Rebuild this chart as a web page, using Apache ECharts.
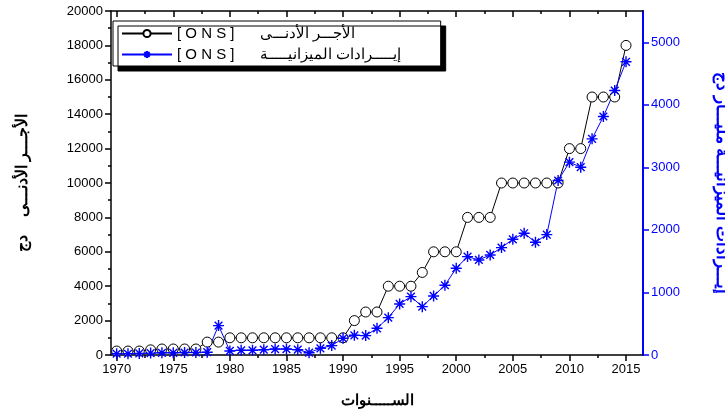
<!DOCTYPE html>
<html>
<head>
<meta charset="utf-8">
<script src="https://cdn.jsdelivr.net/npm/echarts@6/dist/echarts.min.js"></script>
<style>
  html, body { margin: 0; padding: 0; background: #fff; }
</style>
</head>
<body>
<div id="chart" style="width: 725px; height: 412px"></div>
<script>
// السنوات
var years = [1970, 1971, 1972, 1973, 1974, 1975, 1976, 1977, 1978, 1979,
  1980, 1981, 1982, 1983, 1984, 1985, 1986, 1987, 1988, 1989,
  1990, 1991, 1992, 1993, 1994, 1995, 1996, 1997, 1998, 1999,
  2000, 2001, 2002, 2003, 2004, 2005, 2006, 2007, 2008, 2009,
  2010, 2011, 2012, 2013, 2014, 2015];

// الأجر الأدنى (دج) - left axis
var minWage = [230, 230, 230, 300, 350, 350, 350, 350, 750, 750,
  1000, 1000, 1000, 1000, 1000, 1000, 1000, 1000, 1000, 1000,
  1000, 2000, 2500, 2500, 4000, 4000, 4000, 4800, 6000, 6000,
  6000, 8000, 8000, 8000, 10000, 10000, 10000, 10000, 10000, 10000,
  12000, 12000, 15000, 15000, 15000, 18000];

// إيرادات الميزانية (مليار دج) - right axis
var revenue = [20, 20, 25, 30, 35, 35, 40, 40, 45, 470,
  65, 75, 75, 85, 95, 95, 85, 37, 107, 150,
  267, 315, 310, 427, 597, 816, 933, 773, 944, 1115,
  1387, 1573, 1520, 1600, 1717, 1850, 1947, 1803, 1925, 2790,
  3083, 3003, 3456, 3813, 4229, 4688];

var yearTicks = [1970, 1975, 1980, 1985, 1990, 1995, 2000, 2005, 2010, 2015];
var yearMinor = [1972.5, 1977.5, 1982.5, 1987.5, 1992.5, 1997.5, 2002.5, 2007.5, 2012.5];
var rightTicks = [0, 1000, 2000, 3000, 4000, 5000];

var nameWage = "[ O N S ]      الأجـــر الأدنـــى";
var nameRevenue = "[ O N S ]      إيـــــرادات الميزانيـــــة";

var font = "'Liberation Sans', Arial, sans-serif";
var asterisk = "path://M5,0L5,10M0,5L10,5M1.5,1.5L8.5,8.5M1.5,8.5L8.5,1.5";

function pairs(xs, ys) {
  return xs.map(function (x, i) { return [x, ys[i]]; });
}
function plain(v) { return String(v); }

function xAx(pos, ticks, len, inside, showLine, showLabel) {
  return {
    type: "value", position: pos, min: 1969.5, max: 2016.5,
    axisLine: { show: showLine, onZero: false, lineStyle: { color: "#000", width: 1.5 } },
    axisTick: { show: true, customValues: ticks, length: len, inside: inside,
      lineStyle: { color: "#000", width: 1.5 } },
    axisLabel: { show: showLabel, customValues: ticks, color: "#000", fontSize: 13,
      fontFamily: font, margin: 8, formatter: plain },
    splitLine: { show: false }
  };
}

var bottomAxis = xAx("bottom", yearTicks, 6, false, true, true);
bottomAxis.name = "الســـــنوات";
bottomAxis.nameLocation = "middle";
bottomAxis.nameGap = 38;
bottomAxis.nameTextStyle = { color: "#000", fontSize: 15, fontWeight: "bold", fontFamily: font };

var option = {
  animation: false,
  grid: { left: 111, right: 82, top: 11, bottom: 57, outerBoundsMode: "none", containLabel: false },
  legend: {
    orient: "vertical",
    left: 113, top: 21,
    padding: [5, 40, 4, 8],
    itemWidth: 50, itemHeight: 9, itemGap: 6,
    backgroundColor: "#fff",
    borderColor: "#000", borderWidth: 1,
    shadowColor: "#000", shadowBlur: 0, shadowOffsetX: 5, shadowOffsetY: 5,
    textStyle: { color: "#000", fontSize: 15, fontFamily: font },
    data: [nameWage, nameRevenue]
  },
  xAxis: [
    bottomAxis,
    xAx("bottom", yearMinor, 3, false, false, false),
    xAx("top", yearTicks, 6, true, true, false),
    xAx("top", yearMinor, 3, true, false, false)
  ],
  yAxis: [
    {
      type: "value", position: "left", min: 0, max: 20000, interval: 2000,
      axisLine: { show: true, lineStyle: { color: "#000", width: 1.5 } },
      axisTick: { length: 6, lineStyle: { color: "#000", width: 1.5 } },
      minorTick: { show: true, splitNumber: 2, length: 3, lineStyle: { color: "#000", width: 1.5 } },
      axisLabel: { color: "#000", fontSize: 13, fontFamily: font, margin: 8, formatter: plain },
      splitLine: { show: false },
      name: "الأجـــر الأدنـــى    دج",
      nameLocation: "middle", nameRotate: 90, nameGap: 80,
      nameTextStyle: { color: "#000", fontSize: 16, fontWeight: "bold", fontFamily: font }
    },
    {
      type: "value", position: "right", min: 0, max: 5500,
      axisLine: { show: true, lineStyle: { color: "#0000ff", width: 2 } },
      axisTick: { customValues: rightTicks, length: 6, lineStyle: { color: "#0000ff", width: 1.5 } },
      axisLabel: { customValues: rightTicks, color: "#0000ff", fontSize: 13, fontFamily: font,
        margin: 8, formatter: plain },
      splitLine: { show: false },
      name: "إيـــرادات الميزانيـــة مليـــار دج",
      nameLocation: "middle", nameRotate: -90, nameGap: 70,
      nameTextStyle: { color: "#0000ff", fontSize: 17, fontWeight: "bold", fontFamily: font }
    }
  ],
  series: [
    {
      name: nameWage,
      type: "line", xAxisIndex: 0, yAxisIndex: 0,
      data: pairs(years, minWage),
      symbol: "circle", symbolSize: 10,
      lineStyle: { color: "#000", width: 1 },
      itemStyle: { color: "#fff", borderColor: "#000", borderWidth: 1 },
      emphasis: { disabled: true }
    },
    {
      name: nameRevenue,
      type: "line", xAxisIndex: 0, yAxisIndex: 1,
      data: pairs(years, revenue),
      symbol: asterisk, symbolSize: 11,
      lineStyle: { color: "#0000ff", width: 1 },
      itemStyle: { color: "#0000ff", borderColor: "#0000ff", borderWidth: 1.4 },
      emphasis: { disabled: true }
    }
  ]
};

var myChart = echarts.init(document.getElementById("chart"));
myChart.setOption(option);
</script>
</body>
</html>
